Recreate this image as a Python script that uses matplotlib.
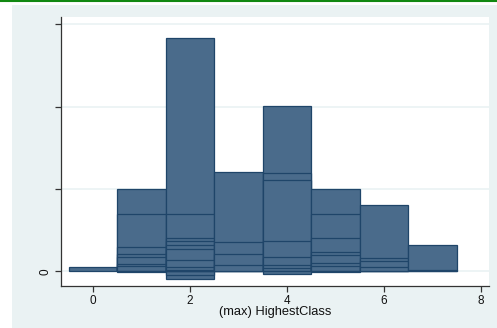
import matplotlib
matplotlib.use("Agg")
import matplotlib.pyplot as plt
from matplotlib.patches import Rectangle
from matplotlib.lines import Line2D

plt.rcParams["font.family"] = ["Liberation Sans", "DejaVu Sans"]

# bin centres of (max) HighestClass and the overlapping bar heights drawn at each
centres = [0, 1, 2, 3, 4, 5, 6, 7]
heights = [
    [0.05],
    [1.0, 0.70, 0.30, 0.21, 0.175, 0.09, 0.06, -0.01],
    [2.83, 0.70, 0.40, 0.37, 0.32, 0.27, 0.14, 0.045, 0.01, -0.05, -0.09],
    [1.20, 0.36, 0.215, 0.07],
    [2.01, 1.19, 1.11, 0.37, 0.175, 0.07, 0.035, -0.03],
    [1.0, 0.70, 0.40, 0.23, 0.20, 0.095, 0.06, -0.015],
    [0.80, 0.16, 0.12, 0.045],
    [0.32, 0.01],
]
xticks = [0, 2, 4, 6, 8]
yticks = [0, 1, 2, 3]
ylabels = ["0", "", "", ""]

FILL = "#4A6B8B"
EDGE = "#1F4569"
BG = "#EAF2F3"

fig = plt.figure(figsize=(4.97, 3.28), dpi=100, facecolor="white")
fig.patches.append(Rectangle((12 / 497, 0), 1, 1 - 5 / 328, transform=fig.transFigure,
                             facecolor=BG, edgecolor="none", zorder=-5))
fig.lines.append(Line2D([0, 1], [1 - 1 / 328, 1 - 1 / 328], transform=fig.transFigure,
                        color="#118811", lw=1.5, zorder=-4))

ax = fig.add_axes([61 / 497, 42 / 328, 428 / 497, 269 / 328])
ax.set_zorder(1)
ax.set_facecolor("white")

for ytk in yticks:
    ax.axhline(ytk, color=BG, lw=1.2, zorder=0)

for c, hs in zip(centres, heights):
    # tallest first so the shorter bars' edges stay visible on top
    for h in sorted(hs, key=lambda v: -abs(v)):
        ax.bar(c, h, width=1.0, color=FILL, edgecolor=EDGE, linewidth=0.9, zorder=2)

ax.set_xlim(-0.66, 8.16)
ax.set_ylim(-0.18, 3.09)
ax.set_xticks(xticks)
ax.set_xticklabels([str(v) for v in xticks])
ax.set_yticks(yticks)
ax.set_yticklabels(ylabels, rotation=90, va="center")
ax.tick_params(axis="both", direction="out", length=4, width=0.9, color="#333333",
               labelsize=8.5, labelcolor="#111111", pad=2.5)
ax.set_xlabel("(max) HighestClass", fontsize=9.3, labelpad=-1, color="#111111")
ax.spines[["top", "right"]].set_visible(False)
for s in ("left", "bottom"):
    ax.spines[s].set_color("#333333")
    ax.spines[s].set_linewidth(0.9)

fig.savefig("out.png", dpi=100, facecolor=fig.get_facecolor())
